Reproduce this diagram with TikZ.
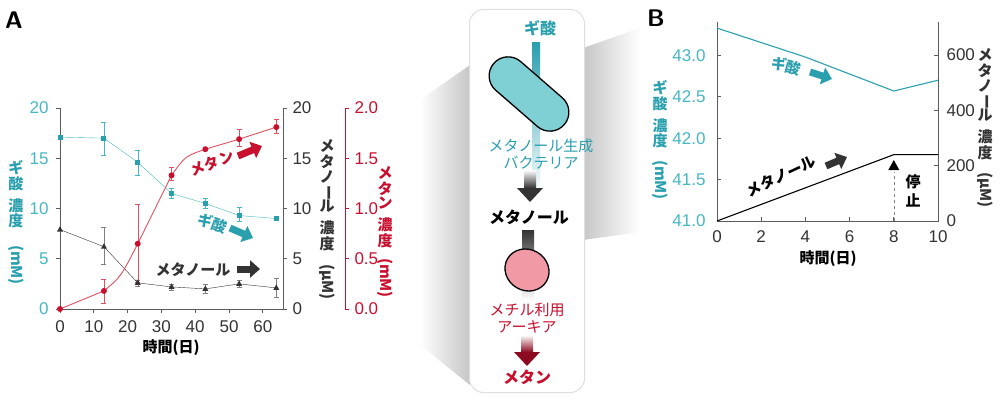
\documentclass[tikz,border=0pt]{standalone}
\usepackage{fontspec}
\usepackage{graphicx}
\setmainfont{Noto Sans CJK JP}
\newfontfamily\numf{Liberation Sans}
\usetikzlibrary{shapes.misc,shapes.geometric,arrows.meta}
\definecolor{cy}{HTML}{2A9FAE}
\definecolor{cyl}{HTML}{45B7C2}
\definecolor{rd}{HTML}{C8102E}
\definecolor{rdl}{HTML}{E0505F}
\definecolor{dk}{HTML}{333333}
\definecolor{pill}{HTML}{7FD0D4}
\definecolor{pink}{HTML}{F19AA5}
\newcommand\vbar{\rotatebox[origin=c]{-90}{ー}}
\newcommand\vst[1]{{\renewcommand\arraystretch{0.62}\begin{tabular}{@{}c@{}}#1\end{tabular}}}
\tikzset{
 num/.style={font=\numf\fontsize{17}{18}\selectfont},
 lab/.style={font=\bfseries\fontsize{15}{16}\selectfont, inner sep=0},
 fat/.style={line width=7pt, -{Triangle[length=10pt,width=17pt]}},
 ax/.style={line width=0.8pt, draw=dk!80},
}
\begin{document}
\begin{tikzpicture}[x=1pt,y=-1pt]
\useasboundingbox (0,0) rectangle (1000,401);
\tikzset{declare function={ax(\x)=60+3.38*\x; ay(\v)=309-10.05*\v; bx(\x)=717+22.1*\x; by(\v)=221-82.8*(\v-41); bm(\v)=221-0.2765*\v;}}
% ---------- panel A ----------
\node[font=\bfseries\sffamily\fontsize{24}{24}\selectfont] (A) at (14,20) {A};
\draw[ax] (60,108) -- (60,309) -- (283,309) -- (283,108);
\draw[ax,draw=rd] (345,108) -- (345,309);
\foreach \v in {0,5,10,15,20}{
 \draw[ax] (60,{ay(\v)}) -- +(-4,0);
 \node[num,text=cyl,anchor=east] at (52,{ay(\v)}) {\v};
 \draw[ax] (283,{ay(\v)}) -- +(4,0);
 \node[num,text=dk,anchor=west] at (289,{ay(\v)}) {\v};}
\foreach \v/\t in {0/0.0,5/0.5,10/1.0,15/1.5,20/2.0}{
 \draw[ax,draw=rd] (345,{ay(\v)}) -- +(4,0);
 \node[num,text=rd,anchor=west] at (351,{ay(\v)}) {\t};}
\foreach \d in {0,10,...,60}{
 \draw[ax] ({ax(\d)},309) -- +(0,4);
 \node[num,text=dk] at ({ax(\d)},327) {\d};}
\node[lab] (tA) at (171,348) {時間(日)};
% axis titles
\node[lab,text=cy] at (16,195) {\vst{ギ\\酸\\[6pt]濃\\度}};
\node[lab,text=cy,rotate=-90] at (16,265) {(mM)};
\node[lab,text=dk] at (327,196) {\vst{メ\\タ\\ノ\\\vbar\\ル\\[6pt]濃\\度}};
\node[lab,text=dk,rotate=-90] at (327,282) {(μM)};
\node[lab,text=rd] at (385,208) {\vst{メ\\タ\\ン\\[6pt]濃\\度}};
\node[lab,text=rd,rotate=-90] at (385,278) {(mM)};
% error bars
\foreach \x/\a/\b in {13/15.3/18.6,23/13.3/15.8,33/11.0/12.0,43/10.0/11.0,53/8.7/10.1}{
 \draw[cyl] ({ax(\x)},{ay(\a)}) -- ({ax(\x)},{ay(\b)}) ({ax(\x)-2.5},{ay(\a)}) -- +(5,0) ({ax(\x)-2.5},{ay(\b)}) -- +(5,0);}
\foreach \x/\a/\b in {13/4.5/8.1,23/2.3/2.9,33/1.9/2.5,43/1.6/2.5,53/2.2/2.9,64/1.2/3.1}{
 \draw[gray] ({ax(\x)},{ay(\a)}) -- ({ax(\x)},{ay(\b)}) ({ax(\x)-2.5},{ay(\a)}) -- +(5,0) ({ax(\x)-2.5},{ay(\b)}) -- +(5,0);}
\foreach \x/\a/\b in {13/0.6/3.0,23/2.7/10.4,33/12.8/14.1,53/16.2/17.9,64/17.5/18.9}{
 \draw[rdl] ({ax(\x)},{ay(\a)}) -- ({ax(\x)},{ay(\b)}) ({ax(\x)-2.5},{ay(\a)}) -- +(5,0) ({ax(\x)-2.5},{ay(\b)}) -- +(5,0);}
% data
\draw[cyl] ({ax(0)},{ay(17.1)}) -- ({ax(13)},{ay(17.0)}) -- ({ax(23)},{ay(14.6)}) -- ({ax(33)},{ay(11.5)}) -- ({ax(43)},{ay(10.5)}) -- ({ax(53)},{ay(9.3)}) -- ({ax(64)},{ay(9.0)});
\foreach \x/\v in {0/17.1,13/17.0,23/14.6,33/11.5,43/10.5,53/9.3,64/9.0}
 \fill[cy] ({ax(\x)-2.5},{ay(\v)-2.5}) rectangle +(5,5);
\draw[dk] ({ax(0)},{ay(7.9)}) -- ({ax(13)},{ay(6.2)}) -- ({ax(23)},{ay(2.6)}) -- ({ax(33)},{ay(2.2)}) -- ({ax(43)},{ay(2.0)}) -- ({ax(53)},{ay(2.5)}) -- ({ax(64)},{ay(2.1)});
\foreach \x/\v in {0/7.9,13/6.2,23/2.6,33/2.2,43/2.0,53/2.5,64/2.1}
 \fill[dk] ({ax(\x)},{ay(\v)-3.5}) -- +(3,5.5) -- +(-3,5.5) -- cycle;
\draw[rdl,line width=0.9pt] ({ax(0)},{ay(0)}) -- ({ax(13)},{ay(1.8)}) .. controls ({ax(18)},{ay(3.2)}) .. ({ax(23)},{ay(6.5)}) -- ({ax(33)},{ay(13.3)}) .. controls ({ax(37)},{ay(15.2)}) .. ({ax(43)},{ay(15.9)}) -- ({ax(53)},{ay(16.9)}) -- ({ax(64)},{ay(18.1)});
\foreach \x/\v in {0/0,13/1.8,23/6.5,33/13.3,43/15.9,53/16.9,64/18.1}
 \fill[rd] ({ax(\x)},{ay(\v)}) circle (3);
% labels
\node[lab,text=rd,rotate=20] (lm) at (212,163) {メタン};
\coordinate (am0) at (238,156); \coordinate (am1) at (262,146);
\draw[fat,draw=rd] (am0) -- (am1);
\node[lab,text=cy,rotate=-20] (lf) at (213,223) {ギ酸};
\coordinate (af0) at (230,228); \coordinate (af1) at (253,238);
\draw[fat,draw=cy] (af0) -- (af1);
\node[lab,text=dk] (lme) at (193,270) {メタノール};
\coordinate (ame0) at (237,269); \coordinate (ame1) at (260,269);
\draw[fat,draw=dk] (ame0) -- (ame1);
% ---------- connecting shades ----------
\shade[left color=white,right color=gray!45] (420,100) -- (470,65) -- (470,385) -- (420,345) -- cycle;
\shade[left color=gray!45,right color=white] (583,48) -- (640,28) -- (640,232) -- (583,240) -- cycle;
% ---------- center panel ----------
\node[draw=gray!25,fill=white,rounded corners=14pt,minimum width=115pt,minimum height=383pt,line width=1pt] (pan) at (527,201) {};
\node[lab,text=cy,font=\bfseries\fontsize{16}{16}\selectfont] (g) at (540,28) {ギ酸};
\shade[top color=cy,bottom color=white] (532,43) rectangle (540,195);
\node[draw=black,line width=1.3pt,fill=pill,rounded rectangle,minimum width=100pt,minimum height=38pt,rotate=-41] (bac) at (529,94) {};
\node[text=cy,font=\fontsize{15}{17}\selectfont,align=center,inner sep=0] (bt) at (541,154) {メタノール生成\\バクテリア};
\shade[top color=white,bottom color=dk] (524,170) rectangle (536,188);
\fill[dk] (517,188) -- (543,188) -- (530,202) -- cycle;
\node[lab,text=black,font=\bfseries\fontsize{16}{16}\selectfont] (meo) at (529,217) {メタノール};
\shade[top color=dk,bottom color=white] (522,230) rectangle (534,300);
\node[draw=black,line width=1.3pt,fill=pink,ellipse,minimum width=45pt,minimum height=41pt,rotate=-30] (arc) at (527,270) {};
\node[text=rd,font=\fontsize{15}{17}\selectfont,align=center,inner sep=0] (at) at (527,318) {メチル利用\\アーキア};
\shade[top color=white,bottom color=rd!70!black] (521,335) rectangle (533,352);
\fill[rd!70!black] (514,352) -- (540,352) -- (527,366) -- cycle;
\node[lab,text=rd,font=\bfseries\fontsize{16}{16}\selectfont] (mt) at (527,377) {メタン};
% ---------- panel B ----------
\node[font=\bfseries\sffamily\fontsize{24}{24}\selectfont] (B) at (656,18) {B};
\draw[ax] (717,22) -- (717,221) -- (938,221) -- (938,22);
\foreach \v in {41.0,41.5,42.0,42.5,43.0}{
 \draw[ax] (717,{by(\v)}) -- +(4,0);
 \node[num,text=cyl,anchor=east] at (709,{by(\v)}) {\v};}
\foreach \v in {0,200,400,600}{
 \draw[ax] (938,{bm(\v)}) -- +(-4,0);
 \node[num,text=dk,anchor=west] at (943,{bm(\v)}) {\v};}
\foreach \d in {0,2,...,10}{
 \draw[ax] ({bx(\d)},221) -- +(0,-4);
 \node[num,text=dk] at ({bx(\d)},237) {\d};}
\node[lab] (tB) at (828,259) {時間(日)};
\node[lab,text=cy] at (660,115) {\vst{ギ\\酸\\[6pt]濃\\度}};
\node[lab,text=cy,rotate=-90] at (660,180) {(mM)};
\node[lab,text=dk] at (985,105) {\vst{メ\\タ\\ノ\\\vbar\\ル\\[6pt]濃\\度}};
\node[lab,text=dk,rotate=-90] at (985,190) {(μM)};
\draw[cy,line width=1.1pt] ({bx(0)},{by(43.33)}) -- ({bx(4)},{by(42.98)}) -- ({bx(8)},{by(42.57)}) -- ({bx(10)},{by(42.70)});
\draw[black,line width=1.1pt] ({bx(0)},{bm(0)}) -- ({bx(8)},{bm(240)}) -- ({bx(10)},{bm(240)});
\coordinate (s0) at ({bx(8)},221);
\coordinate (s1) at ({bx(8)},172);
\draw[gray,dashed] (s0) -- (s1);
\fill[black] ({bx(8)},160) -- +(-5.5,10) -- +(5.5,10) -- cycle;
\node[lab,text=black] (stop) at (913,192) {\vst{停\\[4pt]止}};
\node[lab,text=cy,rotate=-15] (lfb) at (786,66) {ギ酸};
\coordinate (afb0) at (810,72); \coordinate (afb1) at (832,79);
\draw[fat,draw=cy] (afb0) -- (afb1);
\node[lab,text=black,rotate=25] (lmb) at (781,176) {メタノール};
\coordinate (amb0) at (826,166); \coordinate (amb1) at (847,157);
\draw[fat,draw=dk] (amb0) -- (amb1);
\end{tikzpicture}
\end{document}
